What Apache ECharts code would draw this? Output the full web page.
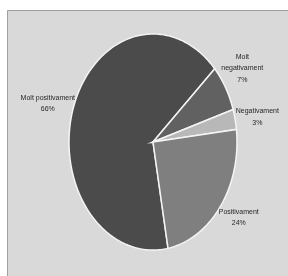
<!DOCTYPE html>
<html>
<head>
<meta charset="utf-8">
<script src="https://cdn.jsdelivr.net/npm/echarts@6/dist/echarts.min.js"></script>
<style>
html, body { margin: 0; padding: 0; background: #fff; }
#main { width: 288px; height: 276px; }
</style>
</head>
<body>
<div id="main"></div>
<script>
// 分类和数值
var categories = ['Molt positivament', 'Molt\nnegativament', 'Negativament', 'Positivament']
var values = [66, 7, 3, 24]
var colors = ['#4b4b4b', '#616161', '#b8b8b8', '#7f7f7f']

// 椭圆饼图的位置和半径
var cx = 153, cy = 142, rx = 84, ry = 108
var startDeg = 79.7
// 标签微调（像 excel 的 best fit）
var labelShift = [[-4, 5], [-3, -5], [0, 4], [0, -6]]

var total = values.reduce(function (a, b) { return a + b }, 0)

// 画一个椭圆扇区 + 标签
function renderItem(params, api) {
  var idx = params.dataIndex
  var before = 0
  for (var i = 0; i < idx; i++) before += values[i]
  var v = api.value(0)
  var a0 = (startDeg + before / total * 360) * Math.PI / 180
  var a1 = (startDeg + (before + v) / total * 360) * Math.PI / 180
  var pts = [[cx, cy]]
  var n = Math.max(4, Math.ceil((a1 - a0) / 0.02))
  for (var k = 0; k <= n; k++) {
    var t = a0 + (a1 - a0) * k / n
    pts.push([cx + rx * Math.cos(t), cy + ry * Math.sin(t)])
  }
  var mid = (a0 + a1) / 2
  var lx = cx + rx * 1.27 * Math.cos(mid) + labelShift[idx][0]
  var ly = cy + ry * 1.27 * Math.sin(mid) + labelShift[idx][1]
  return {
    type: 'group',
    children: [
      {
        type: 'polygon',
        shape: { points: pts },
        style: { fill: colors[idx], stroke: '#f4f4f4', lineWidth: 1.5 }
      },
      {
        type: 'text',
        x: lx,
        y: ly,
        style: {
          text: categories[idx] + '\n' + v + '%',
          align: 'center',
          verticalAlign: 'middle',
          lineHeight: 11.5,
          fill: '#262626',
          fontSize: 7,
          fontFamily: "'Liberation Sans Narrow', 'Liberation Sans', sans-serif"
        }
      }
    ]
  }
}

var myChart = echarts.init(document.getElementById('main'))

var option = {
  animation: false,
  // 灰色背景面板
  graphic: [
    {
      type: 'rect',
      z: -10,
      shape: { x: 7.5, y: 10.5, width: 300, height: 300 },
      style: { fill: '#d9d9d9', stroke: '#a0a0a0', lineWidth: 1 }
    }
  ],
  series: [
    {
      type: 'custom',
      coordinateSystem: 'none',
      renderItem: renderItem,
      data: values.map(function (v, i) {
        return { name: categories[i], value: [v] }
      })
    }
  ]
}

myChart.setOption(option)
</script>
</body>
</html>
